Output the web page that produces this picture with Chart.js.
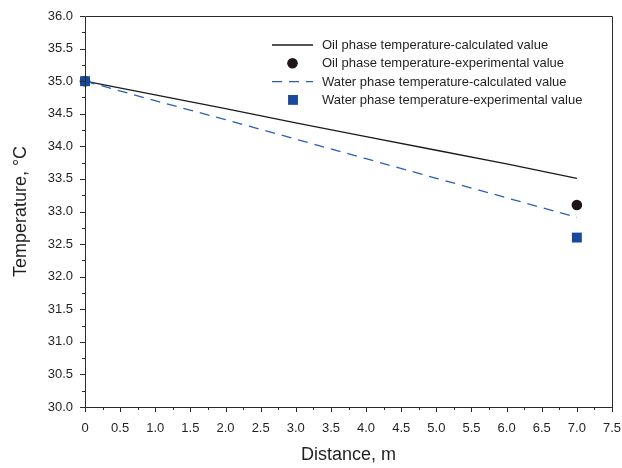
<!DOCTYPE html>
<html>
<head>
    <title>Temperature along distance</title>
    <script src="https://cdn.jsdelivr.net/npm/chart.js"></script>
    <style>
        body { margin: 0; background: #fff; }
    </style>
</head>
<body>
    <canvas id="tempChart" width="622" height="468"></canvas>

    <script>
        // calculated profiles (m, °C)
        var calcDistance = [0, 1, 2, 3, 4, 5, 6, 7];
        var oilCalc = [35.00, 34.79, 34.58, 34.36, 34.15, 33.94, 33.73, 33.51];
        var waterCalc = [35.00, 34.70, 34.41, 34.11, 33.81, 33.51, 33.21, 32.91];

        // measured points
        var expDistance = [0, 7];
        var oilExp = [35.0, 33.1];
        var waterExp = [35.0, 32.6];

        var xTickLabels = ['0', '0.5', '1.0', '1.5', '2.0', '2.5', '3.0', '3.5', '4.0', '4.5', '5.0', '5.5', '6.0', '6.5', '7.0', '7.5'];
        var yTickLabels = ['30.0', '30.5', '31.0', '31.5', '32.0', '32.5', '33.0', '33.5', '34.0', '34.5', '35.0', '35.5', '36.0'];

        var legendLabels = [
            'Oil phase temperature-calculated value',
            'Oil phase temperature-experimental value',
            'Water phase temperature-calculated value',
            'Water phase temperature-experimental value'
        ];

        function toPoints(xs, ys) {
            return xs.map(function (x, i) { return { x: x, y: ys[i] }; });
        }

        var axisColor = '#2b2b2b';
        var textColor = '#231f20';
        var fontFamily = '"Liberation Sans", Arial, sans-serif';

        // frame plus major/minor tick marks, drawn from the scales
        var framePlugin = {
            id: 'frame',
            afterDraw: function (chart) {
                var ctx = chart.ctx;
                var a = chart.chartArea;
                var xs = chart.scales.x, ys = chart.scales.y;
                ctx.save();
                ctx.strokeStyle = axisColor;
                ctx.lineWidth = 1;
                ctx.beginPath();
                ctx.moveTo(a.left + 0.5, a.top + 0.5);
                ctx.lineTo(a.right + 0.5, a.top + 0.5);
                ctx.lineTo(a.right + 0.5, a.bottom + 0.5);
                ctx.lineTo(a.left + 0.5, a.bottom + 0.5);
                ctx.closePath();
                ctx.stroke();

                ctx.beginPath();
                for (var v = 0; v <= 7.5 + 1e-9; v += 0.25) {
                    var px = Math.round(xs.getPixelForValue(v)) + 0.5;
                    var major = Math.abs(v * 2 - Math.round(v * 2)) < 1e-6;
                    ctx.moveTo(px, a.bottom);
                    ctx.lineTo(px, a.bottom + (major ? 5 : 3));
                }
                for (var w = 30; w <= 36 + 1e-9; w += 0.25) {
                    var py = Math.round(ys.getPixelForValue(w)) + 0.5;
                    var majorY = Math.abs(w * 2 - Math.round(w * 2)) < 1e-6;
                    ctx.moveTo(a.left, py);
                    ctx.lineTo(a.left - (majorY ? 5 : 3), py);
                }
                ctx.stroke();
                ctx.restore();
            }
        };

        // legend inside the plot, top right
        var insideLegend = {
            id: 'insideLegend',
            afterDraw: function (chart, args, opts) {
                var ctx = chart.ctx;
                var sets = chart.data.datasets;
                ctx.save();
                ctx.font = '13px ' + fontFamily;
                ctx.textBaseline = 'middle';
                ctx.fillStyle = textColor;
                for (var i = 0; i < sets.length; i++) {
                    var ds = sets[i];
                    var y = opts.top + i * opts.rowGap;
                    var cx = (opts.sampleLeft + opts.sampleRight) / 2;
                    if (ds.showLine) {
                        ctx.save();
                        ctx.strokeStyle = ds.borderColor;
                        ctx.lineWidth = ds.borderWidth;
                        ctx.setLineDash(ds.borderDash || []);
                        ctx.beginPath();
                        ctx.moveTo(opts.sampleLeft, y);
                        ctx.lineTo(opts.sampleRight, y);
                        ctx.stroke();
                        ctx.restore();
                    } else {
                        ctx.save();
                        ctx.fillStyle = ds.pointBackgroundColor;
                        if (ds.pointStyle === 'rect') {
                            var s = ds.pointRadius * 1.41;
                            ctx.fillRect(cx - s / 2 + 0.5, y - s / 2, s, s);
                        } else {
                            ctx.beginPath();
                            ctx.arc(cx, y, ds.pointRadius, 0, Math.PI * 2);
                            ctx.fill();
                        }
                        ctx.restore();
                    }
                    ctx.fillText(legendLabels[i], opts.textLeft, y + 0.5);
                }
                ctx.restore();
            }
        };

        var chart = new Chart(document.getElementById('tempChart'), {
            type: 'scatter',
            data: {
                datasets: [{
                    label: legendLabels[0],
                    data: toPoints(calcDistance, oilCalc),
                    showLine: true,
                    borderColor: '#1c1a1a',
                    borderWidth: 1.3,
                    pointRadius: 0,
                    order: 4
                }, {
                    label: legendLabels[1],
                    data: toPoints(expDistance, oilExp),
                    showLine: false,
                    pointStyle: 'circle',
                    pointRadius: 5.3,
                    pointBackgroundColor: '#1e1514',
                    pointBorderWidth: 0,
                    order: 2
                }, {
                    label: legendLabels[2],
                    data: toPoints(calcDistance, waterCalc),
                    showLine: true,
                    borderColor: '#2a5fb5',
                    borderWidth: 1.3,
                    borderDash: [10, 7],
                    pointRadius: 0,
                    order: 3
                }, {
                    label: legendLabels[3],
                    data: toPoints(expDistance, waterExp),
                    showLine: false,
                    pointStyle: 'rect',
                    pointRadius: 7,
                    pointBackgroundColor: '#18489a',
                    pointBorderWidth: 0,
                    order: 1
                }]
            },
            options: {
                responsive: false,
                animation: false,
                clip: false,
                layout: { padding: { left: 0, right: 10, top: 16, bottom: 0 } },
                plugins: {
                    legend: { display: false },
                    tooltip: { enabled: false },
                    insideLegend: { top: 45, rowGap: 18.3, sampleLeft: 272, sampleRight: 313, textLeft: 322 }
                },
                scales: {
                    x: {
                        type: 'linear',
                        min: 0,
                        max: 7.5,
                        grid: { display: false },
                        border: { display: false },
                        afterFit: function (scale) {
                            scale.height = 61;
                            scale.paddingLeft = 0;
                            scale.paddingRight = 0;
                        },
                        ticks: {
                            stepSize: 0.5,
                            padding: 6,
                            color: textColor,
                            font: { family: fontFamily, size: 13 },
                            maxRotation: 0,
                            autoSkip: false,
                            callback: function (value, index) { return xTickLabels[index]; }
                        },
                        title: {
                            display: true,
                            text: 'Distance, m',
                            color: textColor,
                            font: { family: fontFamily, size: 18 },
                            padding: { top: 0, bottom: 2 }
                        }
                    },
                    y: {
                        min: 30,
                        max: 36,
                        grid: { display: false },
                        border: { display: false },
                        afterFit: function (scale) {
                            scale.width = 85;
                            scale.paddingTop = 0;
                            scale.paddingBottom = 0;
                        },
                        ticks: {
                            stepSize: 0.5,
                            padding: 4,
                            color: textColor,
                            font: { family: fontFamily, size: 13 },
                            autoSkip: false,
                            callback: function (value, index) { return yTickLabels[index]; }
                        },
                        title: {
                            display: true,
                            text: 'Temperature, °C',
                            color: textColor,
                            font: { family: fontFamily, size: 18 },
                            padding: { top: 10, bottom: 0 }
                        }
                    }
                }
            },
            plugins: [framePlugin, insideLegend]
        });
    </script>
</body>
</html>
